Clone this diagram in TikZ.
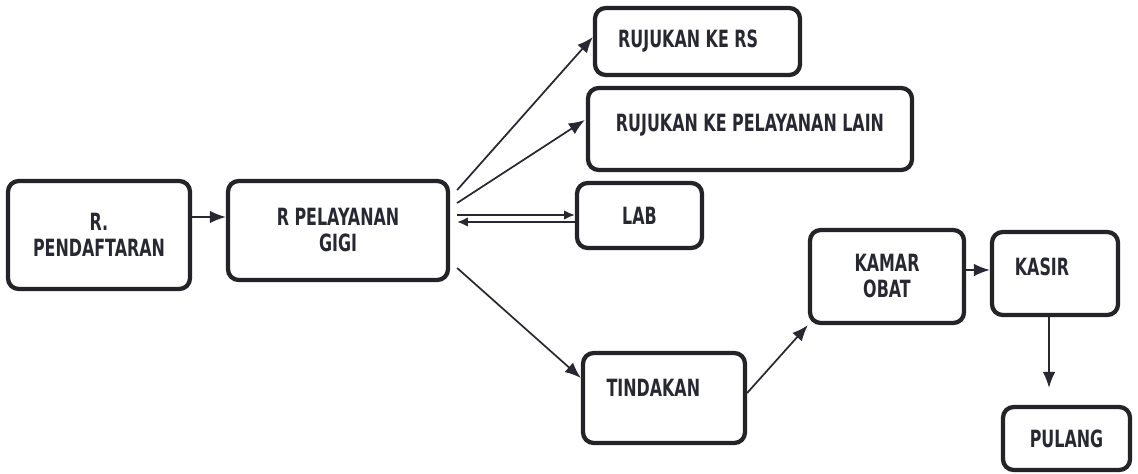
\documentclass[tikz,border=0pt]{standalone}
\usepackage{fontspec}
\setmainfont{DejaVu Sans}[FakeStretch=0.67]
\usetikzlibrary{arrows.meta,calc}

\begin{document}
\begin{tikzpicture}[x=0.75pt,y=0.75pt,yscale=-1,xscale=1,
  kotak/.style={draw={rgb, 255:red, 35; green, 35; blue, 40 },line width=3.2pt,rounded corners=8pt,
    inner sep=0pt,align=center,font=\fontsize{17.8}{19.5}\selectfont\bfseries,
    text={rgb, 255:red, 40; green, 40; blue, 50 }},
  panah/.style={draw={rgb, 255:red, 40; green, 40; blue, 50 },line width=1.3pt,
    -{Latex[length=12pt,width=9.5pt]}},
  panahkecil/.style={panah,-{Latex[length=8pt,width=7pt]}}]
\useasboundingbox (0,0) rectangle (1138,474);

%Rounded Rect boxes
\node [kotak,minimum width=136.5pt,minimum height=81pt] (daftar) at (99,235) {R.\\PENDAFTARAN};
\node [kotak,minimum width=165pt,minimum height=74.25pt] (gigi) at (338,230.5) {R PELAYANAN\\GIGI};
\node [kotak,minimum width=153.75pt,minimum height=50.25pt] (rs) at (697.5,41.5) {RUJUKAN KE RS\hspace*{14pt}};
\node [kotak,minimum width=243pt,minimum height=61.5pt,text depth=9pt] (lain) at (750,129) {RUJUKAN KE PELAYANAN LAIN};
\node [kotak,minimum width=93.75pt,minimum height=48.75pt] (lab) at (639.5,215.5) {LAB};
\node [kotak,minimum width=121.5pt,minimum height=67.5pt,text depth=15pt] (tindakan) at (664,398) {TINDAKAN\hspace*{16pt}};
\node [kotak,minimum width=115.5pt,minimum height=69.75pt] (obat) at (887,276.5) {KAMAR\\OBAT};
\node [kotak,minimum width=94.5pt,minimum height=62.25pt,text depth=9.75pt] (kasir) at (1055,273.5) {KASIR\hspace*{19.5pt}};
\node [kotak,minimum width=95.25pt,minimum height=47.25pt] (pulang) at (1066.5,438.5) {PULANG};

%Straight Lines
\draw [panah] ($(daftar.east)+(0,-18)$) -- ($(gigi.west)+(0,-13.5)$);
\draw [panah] ($(gigi.east)+(7,-40.5)$) -- ($(rs.west)+(0,-4.5)$);
\draw [panah] ($(gigi.east)+(7,-27.5)$) -- ($(lain.west)+(-1,-9)$);
\draw [panahkecil] ($(gigi.east)+(7,-15.5)$) -- ($(lab.west)+(0,-0.5)$);
\draw [panahkecil] ($(lab.west)+(0,6.5)$) -- ($(gigi.east)+(7,-8.5)$);
\draw [panah] ($(gigi.east)+(7,37.5)$) -- ($(tindakan.west)+(0,-20)$);
\draw [panah] ($(tindakan.east)+(0,-5)$) -- (obat.south west);
\draw [panah] ($(obat.east)+(0,-6.5)$) -- ($(kasir.west)+(0,-3.5)$);
\draw [panah,shorten >=12.75pt] ($(kasir.south)+(-6,0)$) -- ($(pulang.north)+(-17.5,0)$);

\end{tikzpicture}
\end{document}
